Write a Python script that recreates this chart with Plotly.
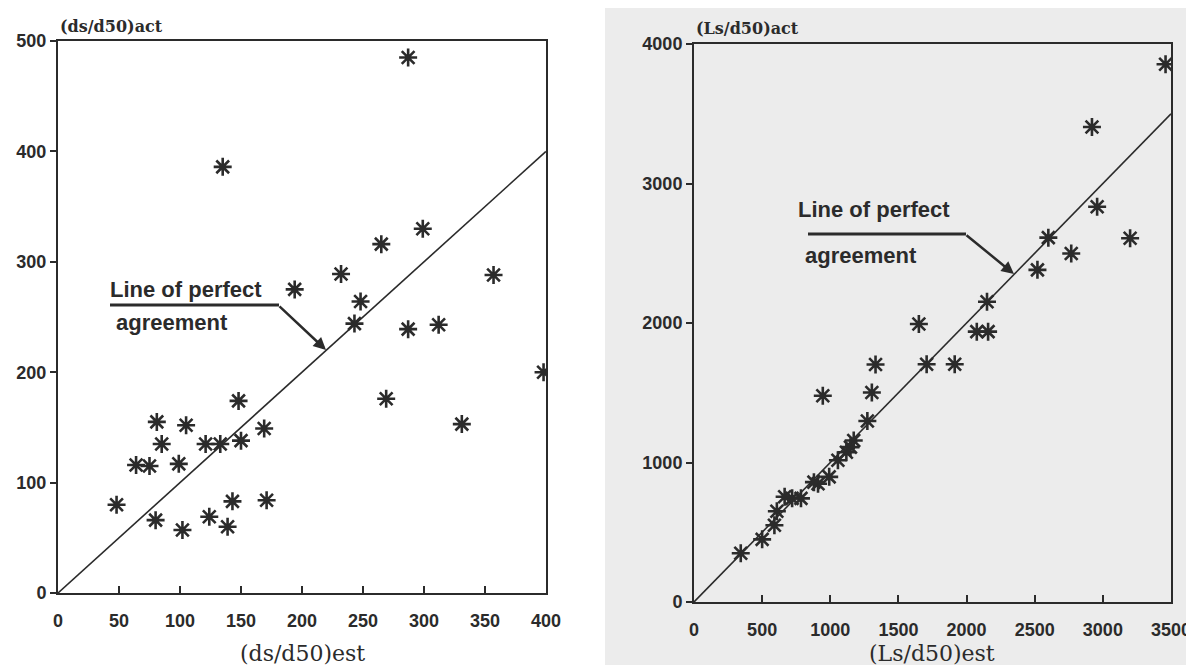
import plotly.graph_objects as go

# ---------------- data ----------------
ds_est = [287, 135, 299, 265, 232, 357, 194, 248, 243, 287, 312, 398, 269, 148, 331,
          81, 105, 169, 85, 121, 133, 150, 64, 75, 99, 48, 143, 171, 80, 124, 102, 139]
ds_act = [485, 386, 330, 316, 289, 288, 275, 264, 244, 239, 243, 200, 176, 174, 153,
          155, 152, 149, 135, 135, 135, 138, 116, 115, 117, 80, 83, 84, 66, 69, 57, 60]

ls_est = [3460, 2920, 2958, 2600, 3200, 2768, 2520, 2150, 1650, 2075, 2158, 1707, 1913,
          1332, 945, 1305, 1272, 1172, 1148, 1118, 1056, 992, 910, 880, 785, 720, 665,
          608, 590, 500, 343]
ls_act = [3855, 3405, 2833, 2612, 2607, 2498, 2381, 2152, 1993, 1938, 1938, 1704, 1704,
          1702, 1478, 1502, 1298, 1158, 1110, 1073, 1016, 897, 848, 859, 743, 743, 755,
          651, 550, 449, 349]

perfect_left = [0, 400]
perfect_right = [0, 3500]

left_xticks = [0, 50, 100, 150, 200, 250, 300, 350, 400]
left_yticks = [0, 100, 200, 300, 400, 500]
right_xticks = [0, 500, 1000, 1500, 2000, 2500, 3000, 3500]
right_yticks = [0, 1000, 2000, 3000, 4000]

# ---------------- layout helpers ----------------
W, H = 1194, 665
def px(x):
    return x / W
def py(y):
    return 1 - y / H

INK = "#2b2b2b"
tickfont = dict(family="Liberation Sans, Arial, sans-serif", size=18, color=INK, weight="bold")

fig = go.Figure()

marker = dict(symbol="asterisk-open", size=15, line=dict(width=2.6, color=INK), color=INK)

fig.add_trace(go.Scatter(x=perfect_left, y=perfect_left, mode="lines",
                         line=dict(color=INK, width=1.6), xaxis="x", yaxis="y",
                         showlegend=False, hoverinfo="skip"))
fig.add_trace(go.Scatter(x=ds_est, y=ds_act, mode="markers", marker=marker,
                         xaxis="x", yaxis="y", showlegend=False))
fig.add_trace(go.Scatter(x=perfect_right, y=perfect_right, mode="lines",
                         line=dict(color=INK, width=1.6), xaxis="x2", yaxis="y2",
                         showlegend=False, hoverinfo="skip"))
fig.add_trace(go.Scatter(x=ls_est, y=ls_act, mode="markers", marker=marker,
                         xaxis="x2", yaxis="y2", showlegend=False))

axis_common = dict(showline=True, linewidth=2, linecolor=INK, mirror=True,
                   showgrid=False, zeroline=False, tickfont=tickfont,
                   tickcolor=INK, tickwidth=2, automargin=False)

fig.update_layout(
    width=W, height=H, autosize=False,
    margin=dict(l=0, r=0, t=0, b=0, pad=0),
    paper_bgcolor="white", plot_bgcolor="rgba(0,0,0,0)",
    xaxis=dict(domain=[px(50), px(538)], range=[0, 400], tickvals=left_xticks,
               ticks="inside", ticklen=7, ticklabelstandoff=10, anchor="y", **axis_common),
    yaxis=dict(domain=[py(585), py(33)], range=[0, 500], tickvals=left_yticks,
               ticks="outside", ticklen=6, anchor="x", **axis_common),
    xaxis2=dict(domain=[px(686), px(1163)], range=[0, 3500], tickvals=right_xticks,
                ticks="inside", ticklen=7, ticklabelstandoff=10, anchor="y2", **axis_common),
    yaxis2=dict(domain=[py(594), py(36)], range=[0, 4000], tickvals=right_yticks,
                ticks="outside", ticklen=6, anchor="x2", **axis_common),
)

# scanned right page tint
fig.add_shape(type="rect", xref="paper", yref="paper", x0=px(597), x1=1, y0=0, y1=1,
              fillcolor="#ececec", line=dict(width=0), layer="below")

ann_font = dict(family="Liberation Sans, Arial, sans-serif", size=22, color=INK, weight="bold")
serif_title = dict(family="DejaVu Serif, serif", size=22, color=INK)
ytitle_font = dict(family="DejaVu Serif, serif", size=16, color=INK, weight="bold")

annotations = [
    # axis titles
    dict(text="(ds/d50)est", x=px(294), y=py(645), font=serif_title),
    dict(text="(Ls/d50)est", x=px(924), y=py(645), font=serif_title),
    dict(text="(ds/d50)act", x=px(50), y=py(18), xanchor="left", font=ytitle_font),
    dict(text="(Ls/d50)act", x=px(686), y=py(20), xanchor="left", font=ytitle_font),
    # left callout
    dict(text="Line of perfect", x=px(178), y=py(282), font=ann_font),
    dict(text="agreement", x=px(164), y=py(315), font=ann_font),
    dict(text="", x=px(318), y=py(342), ax=270 - 318, ay=297 - 342, axref="pixel", ayref="pixel",
         showarrow=True, arrowhead=2, arrowsize=1, arrowwidth=2.5, arrowcolor=INK),
    # right callout
    dict(text="Line of perfect", x=px(866), y=py(202), font=ann_font),
    dict(text="agreement", x=px(853), y=py(247), font=ann_font),
    dict(text="", x=px(1006), y=py(266), ax=957 - 1006, ay=226 - 266, axref="pixel", ayref="pixel",
         showarrow=True, arrowhead=2, arrowsize=1, arrowwidth=2.5, arrowcolor=INK),
]
for a in annotations:
    a.setdefault("xref", "paper")
    a.setdefault("yref", "paper")
    a.setdefault("showarrow", False)
    a.setdefault("xanchor", "center")
    a.setdefault("yanchor", "middle")
    fig.add_annotation(**a)

# underlines of callouts
fig.add_shape(type="line", xref="paper", yref="paper", x0=px(102), x1=px(271), y0=py(297), y1=py(297),
              line=dict(color=INK, width=3))
fig.add_shape(type="line", xref="paper", yref="paper", x0=px(800), x1=px(958), y0=py(226), y1=py(226),
              line=dict(color=INK, width=3))

fig.write_html("out.html")
